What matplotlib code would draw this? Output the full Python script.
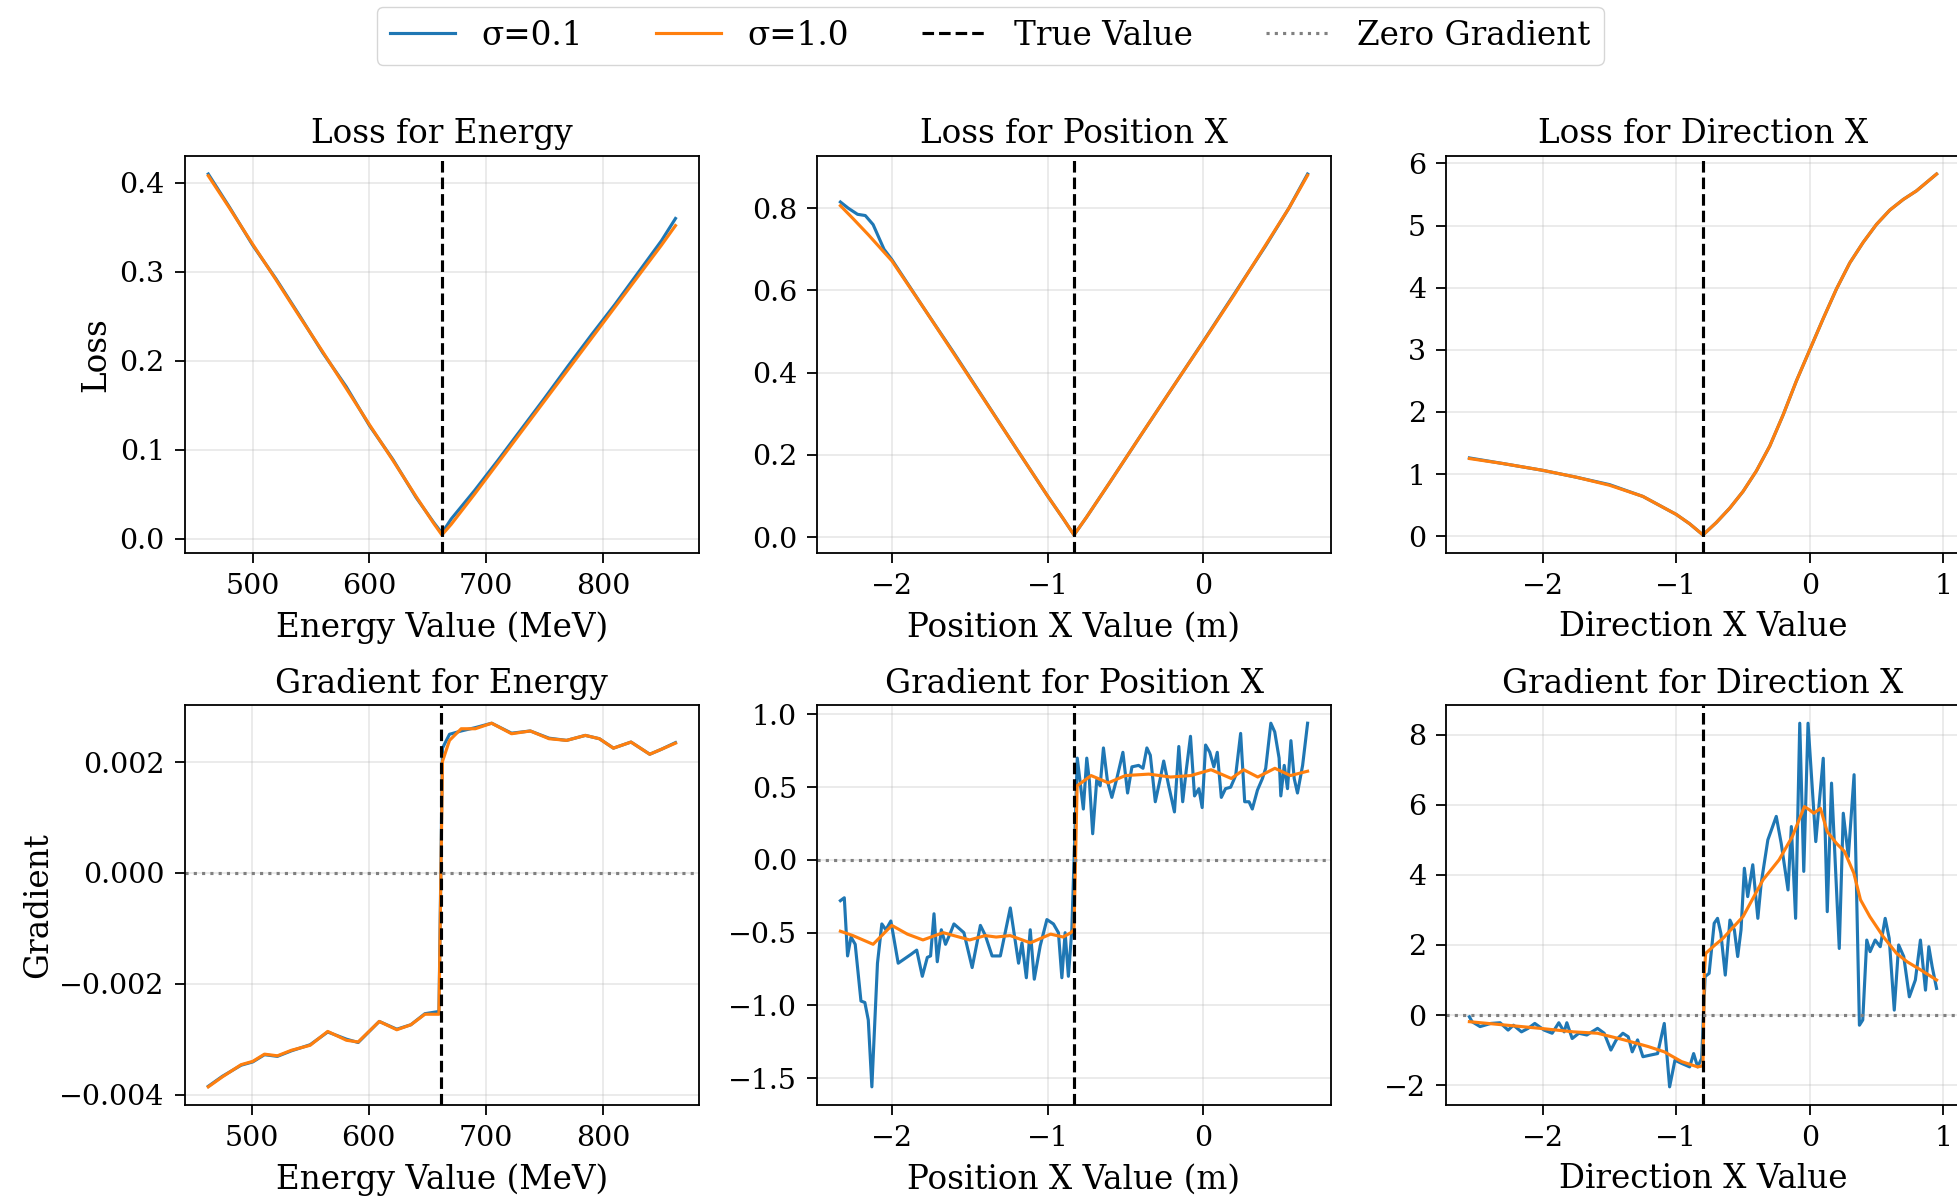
import numpy as np
import matplotlib

matplotlib.use("Agg")
import matplotlib.pyplot as plt

plt.rcParams["font.family"] = "serif"

# True parameter values (dashed lines)
true_energy = 662.0
true_pos_x = -0.83
true_dir_x = -0.80

# --- Loss for Energy ---
energy_loss_x = [462, 480, 500, 520, 540, 560, 580, 600, 620, 640, 655, 662,
                 670, 690, 710, 730, 750, 770, 790, 810, 830, 850, 862]
energy_loss_s01 = [0.410, 0.373, 0.330, 0.292, 0.251, 0.209, 0.171, 0.127,
                   0.089, 0.046, 0.018, 0.006, 0.022, 0.054, 0.088, 0.123,
                   0.158, 0.194, 0.229, 0.263, 0.299, 0.335, 0.360]
energy_loss_s10 = [0.408, 0.372, 0.331, 0.291, 0.250, 0.210, 0.169, 0.128,
                   0.088, 0.047, 0.017, 0.004, 0.016, 0.050, 0.085, 0.120,
                   0.155, 0.190, 0.225, 0.260, 0.295, 0.330, 0.352]

# --- Loss for Position X ---
pos_loss_x_s01 = [-2.33, -2.28, -2.22, -2.17, -2.12, -2.05, -2.0, -1.8, -1.6,
                  -1.4, -1.2, -1.0, -0.9, -0.83, -0.75, -0.6, -0.4, -0.2,
                  0.0, 0.2, 0.4, 0.55, 0.67]
pos_loss_s01 = [0.815, 0.800, 0.785, 0.782, 0.760, 0.700, 0.675, 0.560,
                0.447, 0.331, 0.215, 0.100, 0.045, 0.005, 0.048, 0.133,
                0.248, 0.362, 0.476, 0.592, 0.708, 0.800, 0.883]
pos_loss_x_s10 = [-2.33, -2.25, -2.15, -2.0, -1.8, -1.6, -1.4, -1.2, -1.0,
                  -0.9, -0.83, -0.75, -0.6, -0.4, -0.2, 0.0, 0.2, 0.4,
                  0.55, 0.67]
pos_loss_s10 = [0.806, 0.775, 0.735, 0.672, 0.560, 0.445, 0.330, 0.215,
                0.100, 0.045, 0.005, 0.048, 0.133, 0.248, 0.362, 0.475,
                0.590, 0.710, 0.800, 0.880]

# --- Loss for Direction X ---
dir_loss_x = [-2.55, -2.3, -2.0, -1.75, -1.5, -1.25, -1.0, -0.9, -0.8, -0.7,
              -0.6, -0.5, -0.4, -0.3, -0.2, -0.1, 0.0, 0.1, 0.2, 0.3, 0.4,
              0.5, 0.6, 0.7, 0.8, 0.95]
dir_loss_s01 = [1.26, 1.17, 1.06, 0.95, 0.83, 0.64, 0.35, 0.20, 0.02, 0.22,
                0.45, 0.72, 1.05, 1.45, 1.95, 2.50, 3.00, 3.50, 3.98, 4.40,
                4.73, 5.02, 5.25, 5.42, 5.56, 5.83]
dir_loss_s10 = [1.25, 1.17, 1.06, 0.95, 0.82, 0.64, 0.35, 0.20, 0.02, 0.22,
                0.45, 0.72, 1.05, 1.45, 1.95, 2.50, 3.00, 3.50, 3.98, 4.40,
                4.73, 5.02, 5.25, 5.42, 5.56, 5.83]

# --- Gradient for Energy ---
energy_grad_x = [463, 475, 491, 501, 511, 522, 534, 550, 565, 581, 591, 609,
                 624, 636, 648, 660, 663, 669, 679, 691, 705, 722, 738, 754,
                 769, 785, 797, 809, 824, 840, 850, 862]
energy_grad_s01 = [-0.00385, -0.00367, -0.00347, -0.00341, -0.00328,
                   -0.00331, -0.00321, -0.00310, -0.00287, -0.00300,
                   -0.00306, -0.00268, -0.00282, -0.00274, -0.00254,
                   -0.00250, 0.00225, 0.00250, 0.00256, 0.00262, 0.00270,
                   0.00252, 0.00256, 0.00243, 0.00239, 0.00248, 0.00242,
                   0.00225, 0.00236, 0.00214, 0.00223, 0.00235]
energy_grad_s10 = [-0.00386, -0.00368, -0.00346, -0.00340, -0.00327,
                   -0.00330, -0.00320, -0.00311, -0.00286, -0.00302,
                   -0.00305, -0.00268, -0.00283, -0.00274, -0.00255,
                   -0.00255, 0.00201, 0.00239, 0.00260, 0.00260, 0.00270,
                   0.00251, 0.00256, 0.00242, 0.00239, 0.00248, 0.00242,
                   0.00225, 0.00236, 0.00214, 0.00223, 0.00234]

# --- Gradient for Position X ---
pos_grad_x_s01 = [-2.33, -2.305, -2.284, -2.262, -2.235, -2.198, -2.173,
                  -2.151, -2.128, -2.092, -2.064, -2.038, -2.006, -1.959,
                  -1.878, -1.840, -1.804, -1.772, -1.751, -1.729, -1.708,
                  -1.682, -1.655, -1.623, -1.601, -1.537, -1.484, -1.431,
                  -1.399, -1.356, -1.303, -1.239, -1.186, -1.164, -1.136,
                  -1.111, -1.085, -1.047, -1.004, -0.962, -0.930, -0.908,
                  -0.887, -0.866, -0.844,
                  -0.809, -0.770, -0.748, -0.731, -0.710, -0.684, -0.662,
                  -0.641, -0.615, -0.587, -0.555, -0.516, -0.486, -0.458,
                  -0.415, -0.387, -0.362, -0.340, -0.308, -0.276, -0.254,
                  -0.222, -0.185, -0.157, -0.132, -0.110, -0.082, -0.056,
                  -0.028, -0.007, 0.015, 0.042, 0.068, 0.090, 0.116, 0.143,
                  0.176, 0.208, 0.240, 0.266, 0.294, 0.315, 0.348, 0.380,
                  0.401, 0.434, 0.459, 0.487, 0.498, 0.520, 0.541, 0.563,
                  0.584, 0.605, 0.638, 0.670]
pos_grad_s01 = [-0.28, -0.26, -0.66, -0.53, -0.58, -0.97, -0.98, -1.10,
                -1.56, -0.71, -0.44, -0.48, -0.42, -0.71, -0.65, -0.62,
                -0.80, -0.67, -0.66, -0.37, -0.70, -0.48, -0.58, -0.50,
                -0.44, -0.50, -0.74, -0.45, -0.52, -0.66, -0.66, -0.33,
                -0.71, -0.57, -0.81, -0.48, -0.82, -0.59, -0.41, -0.44,
                -0.50, -0.81, -0.50, -0.80, -0.48,
                0.70, 0.35, 0.70, 0.54, 0.18, 0.55, 0.51, 0.77, 0.54, 0.43,
                0.56, 0.74, 0.46, 0.64, 0.65, 0.63, 0.77, 0.72, 0.40, 0.56,
                0.68, 0.51, 0.33, 0.78, 0.40, 0.61, 0.85, 0.44, 0.49, 0.36,
                0.79, 0.74, 0.64, 0.74, 0.43, 0.49, 0.50, 0.58, 0.87, 0.40,
                0.40, 0.35, 0.48, 0.56, 0.63, 0.94, 0.88, 0.70, 0.44, 0.65,
                0.49, 0.82, 0.56, 0.46, 0.65, 0.94]
pos_grad_x_s10 = [-2.33, -2.25, -2.12, -2.0, -1.9, -1.80, -1.67, -1.50,
                  -1.40, -1.33, -1.24, -1.11, -0.98, -0.90, -0.85, -0.83,
                  -0.81, -0.72, -0.61, -0.50, -0.35, -0.21, -0.08, 0.05,
                  0.18, 0.26, 0.35, 0.46, 0.56, 0.67]
pos_grad_s10 = [-0.49, -0.52, -0.58, -0.45, -0.51, -0.55, -0.50, -0.55,
                -0.52, -0.53, -0.52, -0.57, -0.51, -0.53, -0.50, -0.48,
                0.51, 0.58, 0.53, 0.58, 0.59, 0.57, 0.58, 0.62, 0.56, 0.62,
                0.57, 0.63, 0.58, 0.61]

# --- Gradient for Direction X ---
dir_grad_x_s01 = [-2.55, -2.53, -2.47, -2.39, -2.32, -2.26, -2.22, -2.16,
                  -2.11, -2.06, -1.99, -1.93, -1.88, -1.84, -1.82, -1.78,
                  -1.73, -1.67, -1.59, -1.54, -1.49, -1.45, -1.40, -1.36,
                  -1.33, -1.29, -1.25, -1.19, -1.14, -1.09, -1.05, -1.01,
                  -0.96, -0.90, -0.87, -0.84, -0.81,
                  -0.784, -0.754, -0.716, -0.691, -0.666, -0.633, -0.598,
                  -0.565, -0.540, -0.515, -0.490, -0.465, -0.427, -0.389,
                  -0.364, -0.314, -0.251, -0.214, -0.163, -0.138, -0.106,
                  -0.075, -0.045, -0.013, 0.045, 0.101, 0.131, 0.163, 0.221,
                  0.251, 0.289, 0.332, 0.372, 0.397, 0.427, 0.452, 0.490,
                  0.528, 0.565, 0.595, 0.633, 0.666, 0.704, 0.746, 0.791,
                  0.829, 0.867, 0.892, 0.917, 0.950]
dir_grad_s01 = [-0.05, -0.19, -0.33, -0.24, -0.22, -0.43, -0.29, -0.48,
                -0.38, -0.24, -0.43, -0.52, -0.22, -0.48, -0.22, -0.67,
                -0.52, -0.57, -0.38, -0.52, -1.00, -0.71, -0.52, -0.62,
                -1.05, -0.71, -1.19, -1.14, -1.10, -0.24, -2.05, -1.29,
                -1.38, -1.48, -1.10, -1.48, -1.24,
                1.10, 1.19, 2.62, 2.76, 2.33, 1.14, 2.71, 2.43, 1.67, 2.43,
                4.19, 3.38, 4.29, 2.76, 3.76, 5.00, 5.67, 4.90, 3.57, 5.38,
                2.76, 8.33, 4.10, 8.33, 4.95, 7.33, 2.95, 6.62, 1.90, 5.76,
                4.52, 6.86, -0.29, -0.14, 2.14, 1.81, 2.14, 1.95, 2.76, 2.19,
                0.14, 2.00, 1.67, 0.52, 1.00, 2.14, 0.71, 1.95, 1.38, 0.76]
dir_grad_x_s10 = [-2.55, -2.27, -2.02, -1.77, -1.59, -1.39, -1.21, -1.09,
                  -0.96, -0.84, -0.80, -0.79, -0.78, -0.71, -0.65, -0.50,
                  -0.43, -0.35, -0.23, -0.13, -0.04, 0.00, 0.03, 0.08, 0.13,
                  0.20, 0.26, 0.33, 0.38, 0.45, 0.55, 0.65, 0.73, 0.83,
                  0.95]
dir_grad_s10 = [-0.19, -0.29, -0.38, -0.48, -0.52, -0.71, -0.90, -1.05,
                -1.33, -1.48, -1.45, 1.20, 1.76, 2.00, 2.19, 2.81, 3.30,
                3.86, 4.43, 5.10, 5.95, 5.85, 5.76, 5.90, 5.24, 4.90, 4.67,
                4.05, 3.29, 2.81, 2.24, 1.76, 1.52, 1.29, 1.00]

LW = 2.25
C01 = "#1f77b4"
C10 = "#ff7f0e"
FS_TITLE = 23.5
FS_LABEL = 23.5
FS_TICK = 20.5

fig = plt.figure(figsize=(19.57, 11.98), dpi=100)

col_left = [0.0945, 0.4175, 0.7389]
ax_w = 0.2626
top_row = (0.5384, 0.3314)
bot_row = (0.0776, 0.3339)

panels = [
    # (row, col, x_s01, y_s01, x_s10, y_s10, true value, title, xlabel, gradient?)
    (0, 0, energy_loss_x, energy_loss_s01, energy_loss_x, energy_loss_s10,
     true_energy, "Loss for Energy", "Energy Value (MeV)", False),
    (0, 1, pos_loss_x_s01, pos_loss_s01, pos_loss_x_s10, pos_loss_s10,
     true_pos_x, "Loss for Position X", "Position X Value (m)", False),
    (0, 2, dir_loss_x, dir_loss_s01, dir_loss_x, dir_loss_s10,
     true_dir_x, "Loss for Direction X", "Direction X Value", False),
    (1, 0, energy_grad_x, energy_grad_s01, energy_grad_x, energy_grad_s10,
     true_energy, "Gradient for Energy", "Energy Value (MeV)", True),
    (1, 1, pos_grad_x_s01, pos_grad_s01, pos_grad_x_s10, pos_grad_s10,
     true_pos_x, "Gradient for Position X", "Position X Value (m)", True),
    (1, 2, dir_grad_x_s01, dir_grad_s01, dir_grad_x_s10, dir_grad_s10,
     true_dir_x, "Gradient for Direction X", "Direction X Value", True),
]

axes = {}
for row, col, xa, ya, xb, yb, tv, title, xlabel, is_grad in panels:
    bottom, height = top_row if row == 0 else bot_row
    ax = fig.add_axes([col_left[col], bottom, ax_w, height])
    axes[(row, col)] = ax

    ax.plot(xa, ya, color=C01, lw=LW, label="σ=0.1")
    ax.plot(xb, yb, color=C10, lw=LW, label="σ=1.0")
    ax.axvline(tv, color="black", linestyle="--", lw=LW, label="True Value")
    if is_grad:
        ax.axhline(0, color="gray", linestyle=":", lw=LW, label="Zero Gradient")

    ax.set_title(title, fontsize=FS_TITLE, pad=9)
    ax.set_xlabel(xlabel, fontsize=FS_LABEL, labelpad=8)
    ax.grid(True, alpha=0.3, lw=1.2)
    ax.tick_params(labelsize=FS_TICK, length=7, width=1.3, pad=7.5)
    for sp in ax.spines.values():
        sp.set_linewidth(1.3)

axes[(0, 0)].set_ylabel("Loss", fontsize=FS_LABEL, labelpad=5)
axes[(1, 0)].set_ylabel("Gradient", fontsize=FS_LABEL, labelpad=4)

axes[(0, 0)].set_xticks([500, 600, 700, 800])
axes[(1, 0)].set_xticks([500, 600, 700, 800])
axes[(1, 0)].set_yticks([-0.004, -0.002, 0.0, 0.002])
axes[(0, 2)].set_yticks([0, 1, 2, 3, 4, 5, 6])
for c in (1, 2):
    for r in (0, 1):
        axes[(r, c)].set_xticks([-2, -1, 0] if c == 1 else [-2, -1, 0, 1])

handles, labels = axes[(1, 1)].get_legend_handles_labels()
fig.legend(handles, labels, loc="upper center", bbox_to_anchor=(0.506, 1.008),
           ncol=4, fontsize=23.5, frameon=True, columnspacing=2.25)

fig.savefig("out.png", dpi=100)
